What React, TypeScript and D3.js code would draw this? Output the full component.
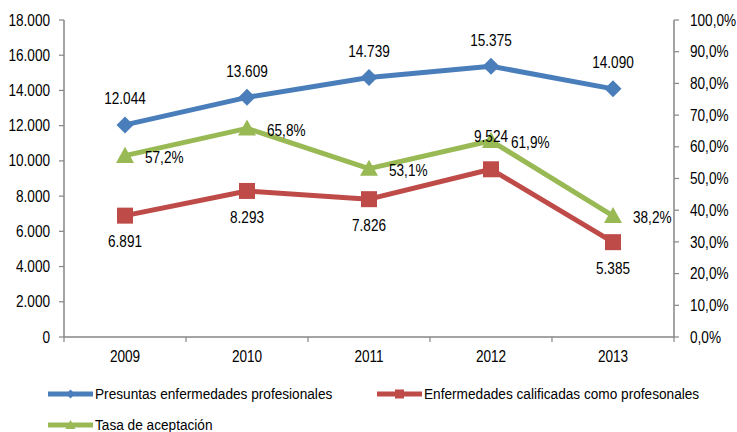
import React from "react";
import * as d3 from "d3";

const years = ["2009", "2010", "2011", "2012", "2013"];
const presuntas = [12044, 13609, 14739, 15375, 14090];
const calificadas = [6891, 8293, 7826, 9524, 5385];
const tasa = [57.2, 65.8, 53.1, 61.9, 38.2];
const leftTicks = [0, 2000, 4000, 6000, 8000, 10000, 12000, 14000, 16000, 18000];
const rightTicks = [0, 10, 20, 30, 40, 50, 60, 70, 80, 90, 100];
const calLabelPos = ["below", "below", "below", "above", "below"];
const seriesNames = [
  "Presuntas enfermedades profesionales",
  "Enfermedades calificadas como profesonales",
  "Tasa de aceptación",
];

const W = 737, H = 432;
const FONT = "'Liberation Sans', Arial, sans-serif";
const BLUE = "#4A7EBB", RED = "#BE4B48", GREEN = "#98B954", AXIS = "#868686";
const SX = 0.85;

const fmtNum = (v: number) => d3.format(",")(v).replace(/,/g, ".");
const fmtPct = (v: number) => v.toFixed(1).replace(".", ",") + "%";

function T(props: { x: number; y: number; anchor?: string; size?: number; sx?: number; children: any }) {
  const { x, y, anchor = "middle", size = 16, sx = SX, children } = props;
  return (
    <text transform={`translate(${x},${y}) scale(${sx},1)`} textAnchor={anchor} dy="0.35em"
      fontSize={size} fill="#000">
      {children}
    </text>
  );
}

export default function App() {
  const left = 64, right = 674, top = 20, bottom = 337;
  const x = d3.scaleBand().domain(years).range([left, right]);
  const cx = (d: string) => (x(d) as number) + x.bandwidth() / 2;
  const yL = d3.scaleLinear().domain([0, 18000]).range([bottom, top]);
  const yR = d3.scaleLinear().domain([0, 100]).range([bottom, top]);
  const line = d3.line<[number, number]>();

  const bluePts = years.map((y, i) => [cx(y), yL(presuntas[i])] as [number, number]);
  const redPts = years.map((y, i) => [cx(y), yL(calificadas[i])] as [number, number]);
  const greenPts = years.map((y, i) => [cx(y), yR(tasa[i])] as [number, number]);

  const diamond = (px: number, py: number, s = 8.5) =>
    `M${px},${py - s}L${px + s},${py}L${px},${py + s}L${px - s},${py}Z`;
  const tri = (px: number, py: number, s = 9) =>
    `M${px},${py - s}L${px + s},${py + s * 0.8}L${px - s},${py + s * 0.8}Z`;

  const boundaries = [...years.map((d) => x(d) as number), right];

  return (
    <svg width={W} height={H} style={{ position: "absolute", left: 0, top: 0, background: "#fff" }}
      fontFamily={FONT}>
      {/* left axis */}
      <line x1={left} x2={left} y1={top} y2={bottom} stroke={AXIS} strokeWidth={1.5} />
      {leftTicks.map((t) => (
        <g key={"l" + t}>
          <line x1={left - 5} x2={left} y1={yL(t)} y2={yL(t)} stroke={AXIS} strokeWidth={1.2} />
          <T x={left - 14} y={yL(t)} anchor="end">{fmtNum(t)}</T>
        </g>
      ))}
      {/* right axis */}
      <line x1={right} x2={right} y1={top} y2={bottom} stroke={AXIS} strokeWidth={1.5} />
      {rightTicks.map((t) => (
        <g key={"r" + t}>
          <line x1={right} x2={right + 5} y1={yR(t)} y2={yR(t)} stroke={AXIS} strokeWidth={1.2} />
          <T x={right + 16} y={yR(t)} anchor="start">{fmtPct(t)}</T>
        </g>
      ))}
      {/* x axis */}
      <line x1={left} x2={right} y1={bottom} y2={bottom} stroke={AXIS} strokeWidth={1.5} />
      {boundaries.map((b, i) => (
        <line key={"b" + i} x1={b} x2={b} y1={bottom} y2={bottom + 5} stroke={AXIS} strokeWidth={1.2} />
      ))}
      {years.map((y) => (
        <T key={y} x={cx(y)} y={bottom + 19}>{y}</T>
      ))}

      {/* lines */}
      <path d={line(greenPts) || ""} fill="none" stroke={GREEN} strokeWidth={5} strokeLinejoin="round" />
      <path d={line(redPts) || ""} fill="none" stroke={RED} strokeWidth={5} strokeLinejoin="round" />
      <path d={line(bluePts) || ""} fill="none" stroke={BLUE} strokeWidth={5} strokeLinejoin="round" />
      {greenPts.map(([px, py], i) => (
        <path key={"gm" + i} d={tri(px, py)} fill={GREEN} />
      ))}
      {redPts.map(([px, py], i) => (
        <rect key={"rm" + i} x={px - 8} y={py - 8} width={16} height={16} fill={RED} />
      ))}
      {bluePts.map(([px, py], i) => (
        <path key={"bm" + i} d={diamond(px, py)} fill={BLUE} />
      ))}

      {/* labels */}
      {bluePts.map(([px, py], i) => (
        <T key={"bl" + i} x={px} y={py - 26}>{fmtNum(presuntas[i])}</T>
      ))}
      {redPts.map(([px, py], i) => (
        <T key={"rl" + i} x={px} y={calLabelPos[i] === "above" ? py - 33 : py + 26}>
          {fmtNum(calificadas[i])}
        </T>
      ))}
      {greenPts.map(([px, py], i) => (
        <T key={"gl" + i} x={px + 20} y={py + 1.5} anchor="start">{fmtPct(tasa[i])}</T>
      ))}

      {/* legend */}
      {[
        { c: BLUE, x0: 48, y0: 394, m: "d" },
        { c: RED, x0: 377, y0: 394, m: "s" },
        { c: GREEN, x0: 48, y0: 425, m: "t" },
      ].map((l, i) => (
        <g key={"lg" + i}>
          <line x1={l.x0} x2={l.x0 + 45} y1={l.y0} y2={l.y0} stroke={l.c} strokeWidth={5} />
          {l.m === "d" && <path d={diamond(l.x0 + 22.5, l.y0, 4.5)} fill={l.c} />}
          {l.m === "s" && <rect x={l.x0 + 18} y={l.y0 - 4.5} width={9} height={9} fill={l.c} />}
          {l.m === "t" && <path d={tri(l.x0 + 22.5, l.y0, 5)} fill={l.c} />}
          <T x={l.x0 + 47} y={l.y0} anchor="start" size={15} sx={0.91}>{seriesNames[i]}</T>
        </g>
      ))}
    </svg>
  );
}
